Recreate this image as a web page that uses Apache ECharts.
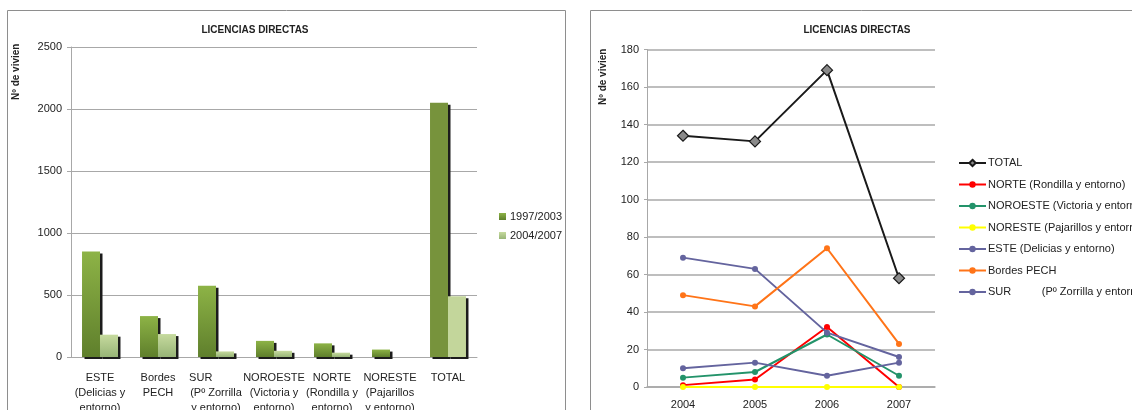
<!DOCTYPE html>
<html>
<head>
<meta charset="utf-8">
<title>Licencias directas</title>
<script src="https://cdn.jsdelivr.net/npm/echarts@6/dist/echarts.min.js"></script>
<style>
  html, body { margin: 0; padding: 0; background: #ffffff; }
  #chart { width: 1132px; height: 410px; }
</style>
</head>
<body>
<div id="chart"></div>
<script>
// ---- Bar chart: licences per zone, two periods ----
const zoneLabels = [
  'ESTE\n(Delicias y\nentorno)',
  'Bordes\nPECH',
  'SUR          \n(Pº Zorrilla\ny entorno)',
  'NOROESTE\n(Victoria y\nentorno)',
  'NORTE\n(Rondilla y\nentorno)',
  'NORESTE\n(Pajarillos\ny entorno)',
  'TOTAL'
];
const periodNames = ['1997/2003', '2004/2007'];
const values9703 = [850, 330, 575, 130, 110, 60, 2050];
const values0407 = [180, 185, 45, 50, 35, 0, 490];
const barTicks = [0, 2500, 500];   // min, max, interval

// ---- Line chart: yearly licences per zone ----
const years = ['2004', '2005', '2006', '2007'];
const lineNames = [
  'TOTAL',
  'NORTE (Rondilla y entorno)',
  'NOROESTE (Victoria y entorno)',
  'NORESTE (Pajarillos y entorno)',
  'ESTE (Delicias y entorno)',
  'Bordes PECH',
  'SUR          (Pº Zorrilla y entorno)'
];
const totalVals    = [134, 131, 169, 58];
const norteVals    = [1, 4, 32, 0];
const noroesteVals = [5, 8, 28, 6];
const noresteVals  = [0, 0, 0, 0];
const esteVals     = [69, 63, 29, 16];
const bordesVals   = [49, 43, 74, 23];
const surVals      = [10, 13, 6, 13];
const lineTicks = [0, 180, 20];   // min, max, interval

const FONT = '"Liberation Sans", Arial, sans-serif';
const TXT = '#222222';
const GRID = '#a8a8a8';

const lineData = [totalVals, norteVals, noroesteVals, noresteVals, esteVals, bordesVals, surVals];
const lineColors = ['#1a1a1a', '#ff0000', '#23936a', '#ffff00', '#64649e', '#ff7418', '#64649e'];

function grad(top, bottom) {
  return new echarts.graphic.LinearGradient(0, 0, 0, 1, [
    { offset: 0, color: top }, { offset: 1, color: bottom }
  ]);
}

// bar fills: shaded per bar, flat for the TOTAL column
function barData(vals, shaded, flat) {
  return vals.map((v, i) => i === vals.length - 1
    ? { value: v, itemStyle: { color: flat } }
    : { value: v, itemStyle: { color: shaded } });
}

const barShadow = { shadowColor: '#1c1c1c', shadowBlur: 0, shadowOffsetX: 2.5, shadowOffsetY: 2 };

const lineSeries = lineNames.map((name, i) => {
  const isTotal = i === 0;
  return {
    name: name,
    type: 'line',
    xAxisIndex: 1,
    yAxisIndex: 1,
    data: lineData[i],
    symbol: isTotal ? 'diamond' : 'circle',
    symbolSize: isTotal ? 11 : 6,
    showAllSymbol: true,
    lineStyle: { color: lineColors[i], width: 2 },
    itemStyle: isTotal
      ? { color: '#8a8a8a', borderColor: '#1a1a1a', borderWidth: 1.2 }
      : { color: lineColors[i], borderWidth: 0 },
    emphasis: { disabled: true },
    animation: false
  };
});

const plainNum = v => String(v);

const option = {
  animation: false,
  backgroundColor: '#ffffff',
  textStyle: { fontFamily: FONT, color: TXT },
  title: [
    { text: 'LICENCIAS DIRECTAS', left: 250, top: 20, textAlign: 'center',
      textStyle: { fontFamily: FONT, fontSize: 10, fontWeight: 'bold', color: TXT } },
    { text: 'LICENCIAS DIRECTAS', left: 852, top: 20, textAlign: 'center',
      textStyle: { fontFamily: FONT, fontSize: 10, fontWeight: 'bold', color: TXT } }
  ],
  legend: [
    {
      data: periodNames,
      orient: 'vertical',
      left: 494, top: 206,
      itemWidth: 7, itemHeight: 7, itemGap: 8,
      icon: 'rect',
      selectedMode: false,
      textStyle: { fontFamily: FONT, fontSize: 11, color: TXT, padding: [0, 0, 0, -1] }
    },
    {
      data: lineNames,
      orient: 'vertical',
      left: 953, top: 152.5,
      itemWidth: 27, itemHeight: 8, itemGap: 10.5,
      selectedMode: false,
      textStyle: { fontFamily: FONT, fontSize: 11, color: TXT, padding: [0, 0, 0, -3] }
    }
  ],
  grid: [
    { left: 71, right: 655, top: 47, bottom: 53, containLabel: false, outerBoundsMode: 'none' },
    { left: 647, right: 197, top: 49.5, bottom: 23, containLabel: false, outerBoundsMode: 'none' }
  ],
  xAxis: [
    {
      type: 'category', gridIndex: 0, data: zoneLabels,
      axisLine: { lineStyle: { color: GRID, width: 1 } },
      axisTick: { show: false },
      axisLabel: { interval: 0, margin: 13, fontFamily: FONT, fontSize: 11, lineHeight: 15, color: TXT }
    },
    {
      type: 'category', gridIndex: 1, data: years,
      axisLine: { lineStyle: { color: GRID, width: 1.5 } },
      axisTick: { show: false },
      axisLabel: { interval: 0, margin: 12, fontFamily: FONT, fontSize: 11, color: TXT }
    }
  ],
  yAxis: [
    {
      type: 'value', gridIndex: 0,
      min: barTicks[0], max: barTicks[1], interval: barTicks[2],
      axisLine: { show: true, lineStyle: { color: GRID, width: 1 } },
      axisTick: { show: true, length: 4, lineStyle: { color: GRID } },
      axisLabel: { margin: 9, fontFamily: FONT, fontSize: 11, color: TXT, formatter: plainNum },
      splitLine: { lineStyle: { color: GRID, width: 1 } }
    },
    {
      type: 'value', gridIndex: 1,
      min: lineTicks[0], max: lineTicks[1], interval: lineTicks[2],
      axisLine: { show: true, lineStyle: { color: GRID, width: 1 } },
      axisTick: { show: true, length: 3, lineStyle: { color: GRID } },
      axisLabel: { margin: 8, fontFamily: FONT, fontSize: 11, color: TXT, formatter: plainNum },
      splitLine: { lineStyle: { color: GRID, width: 1.5 } }
    }
  ],
  graphic: [
    // chart frames
    { type: 'rect', shape: { x: 7.5, y: 10.5, width: 558, height: 430 },
      style: { fill: 'none', stroke: '#8e8e8e', lineWidth: 1 }, silent: true, z: -10 },
    { type: 'rect', shape: { x: 590.5, y: 10.5, width: 600, height: 430 },
      style: { fill: 'none', stroke: '#8e8e8e', lineWidth: 1 }, silent: true, z: -10 },
    // vertical axis titles
    { type: 'text', x: 16, y: 100, rotation: Math.PI / 2,
      style: { text: 'Nº de viviendas', fontFamily: FONT, fontSize: 10, fontWeight: 'bold', fill: TXT,
               align: 'left', verticalAlign: 'middle', width: 62, overflow: 'truncate', ellipsis: '' } },
    { type: 'text', x: 603, y: 105, rotation: Math.PI / 2,
      style: { text: 'Nº de viviendas', fontFamily: FONT, fontSize: 10, fontWeight: 'bold', fill: TXT,
               align: 'left', verticalAlign: 'middle', width: 63, overflow: 'truncate', ellipsis: '' } }
  ],
  series: [
    {
      name: periodNames[0], type: 'bar', xAxisIndex: 0, yAxisIndex: 0,
      barGap: '0%', barCategoryGap: '38%',
      data: barData(values9703, grad('#8db346', '#5f7f2c'), '#77933c'),
      itemStyle: Object.assign({ color: grad('#8db346', '#5f7f2c') }, barShadow),
      emphasis: { disabled: true }
    },
    {
      name: periodNames[1], type: 'bar', xAxisIndex: 0, yAxisIndex: 0,
      barGap: '0%', barCategoryGap: '38%',
      data: barData(values0407, grad('#c6da9e', '#98b577'), '#c3d69b'),
      itemStyle: Object.assign({ color: grad('#c6da9e', '#98b577') }, barShadow),
      emphasis: { disabled: true }
    }
  ].concat(lineSeries)
};

const chart = echarts.init(document.getElementById('chart'), null, { renderer: 'canvas' });
chart.setOption(option);
</script>
</body>
</html>
